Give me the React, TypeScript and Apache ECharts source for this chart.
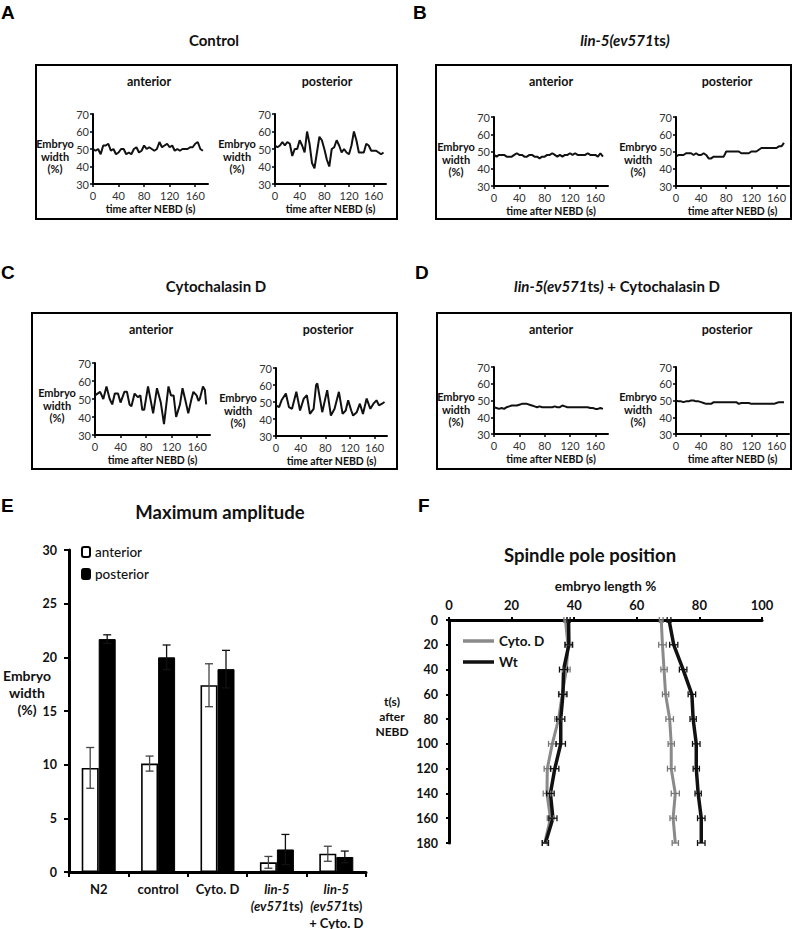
import React, { useEffect, useRef } from "react";
import * as echarts from "echarts";

const FONT = "Lato, 'Open Sans', sans-serif";
const LETTER_FONT = "'Liberation Sans', Arial, sans-serif";

// ---------- Panels A-D: embryo width (%) vs time after NEBD (s) ----------
const timeGrid = [0, 4, 8, 12, 16, 20, 24, 28, 32, 36, 40, 44, 48, 52, 56, 60, 64, 68, 72, 76, 80, 84, 88, 92, 96, 100, 104, 108, 112, 116, 120, 124, 128, 132, 136, 140, 144, 148, 152, 156, 160, 164, 168, 172];
const timeGridLong = [0, 4, 8, 12, 16, 20, 24, 28, 32, 36, 40, 44, 48, 52, 56, 60, 64, 68, 72, 76, 80, 84, 88, 92, 96, 100, 104, 108, 112, 116, 120, 124, 128, 132, 136, 140, 144, 148, 152, 156, 160, 164, 168, 172, 176];

const controlAnterior = [50, 49, 50, 47, 52, 52, 53, 49, 50, 47, 48, 50, 50, 47, 48, 47, 50, 51, 48, 49, 52, 50, 51, 50, 49, 50, 54, 51, 52, 53, 51, 52, 49, 50, 49, 50, 50, 50, 51, 51, 53, 54, 50, 49];
const controlPosterior = [52, 51, 52, 54, 52, 54, 53, 46, 50, 50, 55, 52, 48, 60, 53, 42, 39, 48, 57, 55, 50, 44, 40, 50, 51, 55, 52, 48, 50, 48, 47, 52, 60, 55, 48, 48, 48, 53, 52, 49, 49, 49, 48, 47, 48];
const lin5Anterior = [48, 47, 48, 48, 48, 47, 47, 47, 48, 49, 48, 48, 47, 47, 48, 48, 47, 47, 46, 47, 47, 48, 48, 49, 48, 47, 48, 47, 48, 48, 49, 48, 49, 48, 48, 48, 48, 49, 48, 48, 48, 47, 49, 47];
const lin5Posterior = [47, 48, 48, 48, 49, 49, 49, 48, 49, 48, 48, 49, 48, 46, 46, 47, 47, 47, 47, 47, 50, 50, 50, 50, 50, 50, 49, 49, 49, 49, 50, 50, 50, 51, 52, 52, 52, 52, 52, 52, 52, 53, 53, 55];
const cytoAnteriorTimes = [0, 4, 8, 13, 18, 23, 27, 31, 36, 40, 46, 50, 54, 57, 62, 67, 71, 74, 77, 83, 91, 97, 103, 108, 115, 119, 123, 127, 133, 137, 141, 146, 151, 154, 159, 162, 164, 169, 172, 174];
const cytoAnterior = [52, 53, 54, 50, 57, 50, 47, 53, 53, 48, 54, 54, 47, 46, 53, 51, 52, 44, 44, 57, 42, 56, 48, 36, 57, 52, 52, 40, 47, 56, 50, 42, 50, 54, 52, 49, 50, 57, 55, 47];
const cytoPosteriorTimes = [0, 5, 9, 16, 21, 26, 33, 39, 45, 50, 55, 61, 65, 67, 75, 83, 89, 95, 102, 108, 113, 117, 122, 125, 131, 136, 141, 147, 153, 158, 163, 167, 172, 176];
const cytoPosterior = [48, 47, 51, 55, 47, 46, 56, 45, 52, 54, 43, 46, 60, 61, 44, 57, 42, 46, 56, 43, 45, 51, 45, 42, 44, 49, 43, 52, 46, 49, 51, 48, 49, 50];
const lin5CytoAnterior = [46, 45.5, 45, 45.5, 45, 46, 46.5, 47, 47, 47, 47.5, 48, 48, 48, 47.5, 47, 46.5, 46, 46.5, 46, 46, 46, 46, 46, 46.5, 46, 46, 47, 46.5, 46, 46, 46, 46, 46, 46, 46, 46, 46, 45.5, 45.5, 45, 45, 45.5, 45];
const lin5CytoPosterior = [50, 49.5, 49.5, 49, 49.5, 49.5, 50, 50, 49.5, 49.5, 49, 48.5, 48, 48, 48, 49, 49, 49, 49, 49, 49, 49, 49, 49, 49, 48, 48.5, 48.5, 48.5, 48.5, 48, 48, 48, 48, 48, 48, 48, 48, 48, 48, 48.5, 49, 49, 49];

const timeTicks = [0, 40, 80, 120, 160];

// ---------- Panel E: maximum amplitude ----------
const ampCategories = ["N2", "control", "Cyto. D", "lin-5 (ev571ts)", "lin-5 (ev571ts) + Cyto. D"];
const anteriorMean = [9.7, 10.1, 17.4, 0.9, 1.7];
const anteriorErr = [1.9, 0.7, 2.0, 0.55, 0.7];
const posteriorMean = [21.7, 20.0, 18.9, 2.1, 1.4];
const posteriorErr = [0.4, 1.15, 1.75, 1.4, 0.55];

// ---------- Panel F: spindle pole position ----------
const poleTimes = [0, 20, 40, 60, 80, 100, 120, 140, 160, 180];
const cytoAnteriorPole = [37.2, 38.0, 37.5, 36.2, 35.0, 33.0, 31.4, 31.3, 32.4, 30.6];
const cytoAnteriorPoleErr = [0.5, 1.0, 1.2, 1.2, 1.2, 1.2, 1.0, 1.2, 1.0, 0.8];
const wtAnteriorPole = [38.2, 38.3, 36.6, 36.4, 35.7, 35.7, 33.8, 32.4, 33.2, 30.8];
const wtAnteriorPoleErr = [0.5, 1.2, 1.3, 1.3, 1.3, 1.5, 1.3, 1.2, 1.3, 1.0];
const cytoPosteriorPole = [67.8, 68.2, 68.7, 69.2, 70.5, 71.0, 71.0, 72.3, 71.6, 72.3];
const cytoPosteriorPoleErr = [0.6, 1.2, 1.0, 1.0, 1.2, 1.0, 1.2, 1.3, 1.0, 1.0];
const wtPosteriorPole = [70.3, 71.8, 74.8, 77.6, 78.0, 79.0, 79.0, 79.6, 80.6, 80.6];
const wtPosteriorPoleErr = [0.6, 1.3, 1.2, 1.2, 1.0, 1.2, 1.0, 1.0, 1.2, 1.2];

// layout of the eight small plots (pixels)
const smallPlots = [
  { times: timeGrid, values: controlAnterior, left: 93, top: 114, width: 115, height: 70 },
  { times: timeGridLong, values: controlPosterior, left: 275, top: 114, width: 111, height: 70 },
  { times: timeGrid, values: lin5Anterior, left: 494, top: 117, width: 114, height: 69 },
  { times: timeGrid, values: lin5Posterior, left: 676, top: 117, width: 113, height: 69 },
  { times: cytoAnteriorTimes, values: cytoAnterior, left: 95, top: 363, width: 115, height: 72 },
  { times: cytoPosteriorTimes, values: cytoPosterior, left: 276, top: 368, width: 111, height: 68 },
  { times: timeGrid, values: lin5CytoAnterior, left: 494, top: 367, width: 114, height: 67 },
  { times: timeGrid, values: lin5CytoPosterior, left: 676, top: 367, width: 113, height: 67 },
];

const pairs = (a: number[], b: number[]) => a.map((v, i) => [v, b[i]]);

function barErrRender(offset: number, color: string) {
  return (params: any, api: any) => {
    const c = api.value(0);
    const v = api.value(1);
    const e = api.value(2);
    const top = api.coord([c, v + e]);
    const bot = api.coord([c, Math.max(v - e, 0)]);
    const x = top[0] + offset;
    const cap = 4;
    const style = { stroke: color, lineWidth: 1.3 };
    return {
      type: "group",
      children: [
        { type: "line", shape: { x1: x, y1: top[1], x2: x, y2: bot[1] }, style },
        { type: "line", shape: { x1: x - cap, y1: top[1], x2: x + cap, y2: top[1] }, style },
        { type: "line", shape: { x1: x - cap, y1: bot[1], x2: x + cap, y2: bot[1] }, style },
      ],
    };
  };
}

function poleErrRender(color: string) {
  return (params: any, api: any) => {
    const x = api.value(0);
    const t = api.value(1);
    const e = api.value(2);
    const l = api.coord([x - e, t]);
    const r = api.coord([x + e, t]);
    const cap = 3;
    const style = { stroke: color, lineWidth: 1.3 };
    return {
      type: "group",
      children: [
        { type: "line", shape: { x1: l[0], y1: l[1], x2: r[0], y2: r[1] }, style },
        { type: "line", shape: { x1: l[0], y1: l[1] - cap, x2: l[0], y2: l[1] + cap }, style },
        { type: "line", shape: { x1: r[0], y1: r[1] - cap, x2: r[0], y2: r[1] + cap }, style },
      ],
    };
  };
}

function txt(x: number, y: number, text: string, size: number, extra: any = {}) {
  return {
    type: "text",
    x,
    y,
    silent: true,
    style: {
      text,
      fontSize: size,
      fontWeight: "bold",
      fontFamily: FONT,
      fill: "#111",
      align: "center",
      verticalAlign: "middle",
      ...extra,
    },
  };
}

function buildOption() {
  const grids: any[] = [];
  const xAxes: any[] = [];
  const yAxes: any[] = [];
  const series: any[] = [];
  const graphics: any[] = [];

  smallPlots.forEach((p, i) => {
    grids.push({ left: p.left, top: p.top, width: p.width, height: p.height, containLabel: false, outerBoundsMode: "none" });
    xAxes.push({
      gridIndex: i,
      type: "value",
      min: 0,
      max: 180,
      interval: 40,
      axisLine: { show: true, onZero: false, lineStyle: { color: "#000", width: 2 } },
      axisTick: { show: true, length: 3, customValues: timeTicks, lineStyle: { color: "#000", width: 1.5 } },
      axisLabel: { customValues: timeTicks, fontSize: 11, color: "#333", fontFamily: FONT, margin: 6 },
      splitLine: { show: false },
      name: "time after NEBD (s)",
      nameLocation: "middle",
      nameGap: 19,
      nameTextStyle: { fontSize: 10.5, fontWeight: "bold", fontFamily: FONT, color: "#111" },
    });
    yAxes.push({
      gridIndex: i,
      type: "value",
      min: 30,
      max: 70,
      interval: 10,
      axisLine: { show: true, lineStyle: { color: "#000", width: 2 } },
      axisTick: { show: true, length: 3, lineStyle: { color: "#000", width: 1.5 } },
      axisLabel: { fontSize: 11, color: "#333", fontFamily: FONT, margin: 4 },
      splitLine: { show: false },
    });
    series.push({
      type: "line",
      xAxisIndex: i,
      yAxisIndex: i,
      data: pairs(p.times, p.values),
      showSymbol: false,
      symbol: "none",
      lineStyle: { color: "#111", width: 2 },
      silent: true,
    });
    graphics.push(
      txt(p.left - 38, p.top + 42, "Embryo\nwidth\n(%)", 11, { lineHeight: 12.5 })
    );
  });

  // ---- E grid (index 8)
  grids.push({ left: 69, top: 550, width: 297, height: 322, containLabel: false, outerBoundsMode: "none" });
  const catLabels: Record<string, string> = {
    "N2": "{b|N2}",
    "control": "{b|control}",
    "Cyto. D": "{b|Cyto. D}",
    "lin-5 (ev571ts)": "{i|lin-5}\n{i|(ev571}{b|ts)}",
    "lin-5 (ev571ts) + Cyto. D": "{i|lin-5}\n{i|(ev571}{b|ts)}\n{b|+ Cyto. D}",
  };
  xAxes.push({
    gridIndex: 8,
    type: "category",
    data: ampCategories,
    axisLine: { show: true, lineStyle: { color: "#000", width: 3 } },
    axisTick: { show: true, length: 5, interval: 0, lineStyle: { color: "#000", width: 2 } },
    axisLabel: {
      interval: 0,
      margin: 8,
      formatter: (v: string) => catLabels[v] || v,
      rich: {
        b: { fontSize: 13, fontWeight: "bold", fontFamily: FONT, color: "#111", lineHeight: 17 },
        i: { fontSize: 13, fontWeight: "bold", fontStyle: "italic", fontFamily: FONT, color: "#111", lineHeight: 17 },
      },
    },
    splitLine: { show: false },
  });
  yAxes.push({
    gridIndex: 8,
    type: "value",
    min: 0,
    max: 30,
    interval: 5,
    axisLine: { show: true, lineStyle: { color: "#000", width: 3 } },
    axisTick: { show: true, length: 5, lineStyle: { color: "#000", width: 2 } },
    axisLabel: { fontSize: 12.5, fontWeight: "bold", color: "#111", fontFamily: FONT, margin: 12 },
    splitLine: { show: false },
  });
  series.push(
    {
      name: "anterior",
      type: "bar",
      xAxisIndex: 8,
      yAxisIndex: 8,
      data: anteriorMean,
      barWidth: 17,
      barGap: "0%",
      itemStyle: { color: "#fff", borderColor: "#000", borderWidth: 1.6 },
      silent: true,
    },
    {
      name: "posterior",
      type: "bar",
      xAxisIndex: 8,
      yAxisIndex: 8,
      data: posteriorMean,
      barWidth: 17,
      barGap: "0%",
      itemStyle: { color: "#000", borderColor: "#000", borderWidth: 1 },
      silent: true,
    },
    {
      type: "custom",
      xAxisIndex: 8,
      yAxisIndex: 8,
      z: 5,
      silent: true,
      encode: { x: 0, y: 1 },
      data: anteriorMean.map((m, i) => [i, m, anteriorErr[i]]),
      renderItem: barErrRender(-8.5, "#444"),
    },
    {
      type: "custom",
      xAxisIndex: 8,
      yAxisIndex: 8,
      z: 5,
      silent: true,
      encode: { x: 0, y: 1 },
      data: posteriorMean.map((m, i) => [i, m, posteriorErr[i]]),
      renderItem: barErrRender(8.5, "#111"),
    }
  );

  // ---- F grid (index 9)
  grids.push({ left: 449, top: 620, width: 313, height: 223, containLabel: false, outerBoundsMode: "none" });
  xAxes.push({
    gridIndex: 9,
    type: "value",
    position: "top",
    min: 0,
    max: 100,
    interval: 20,
    axisLine: { show: true, onZero: false, lineStyle: { color: "#000", width: 3 } },
    axisTick: { show: true, length: 3, lineStyle: { color: "#000", width: 2 } },
    axisLabel: { fontSize: 13, fontWeight: "bold", color: "#111", fontFamily: FONT, margin: 9 },
    splitLine: { show: false },
    name: "embryo length %",
    nameLocation: "middle",
    nameGap: 27,
    nameTextStyle: { fontSize: 13.5, fontWeight: "bold", fontFamily: FONT, color: "#111" },
  });
  yAxes.push({
    gridIndex: 9,
    type: "value",
    inverse: true,
    min: 0,
    max: 180,
    interval: 20,
    axisLine: { show: true, onZero: false, lineStyle: { color: "#000", width: 3 } },
    axisTick: { show: true, length: 3, lineStyle: { color: "#000", width: 2 } },
    axisLabel: { fontSize: 12.5, fontWeight: "bold", color: "#111", fontFamily: FONT, margin: 11 },
    splitLine: { show: false },
  });
  const poleLine = (name: string, xs: number[], color: string, width: number) => ({
    name,
    type: "line",
    xAxisIndex: 9,
    yAxisIndex: 9,
    data: pairs(xs, poleTimes),
    symbol: "none",
    showSymbol: false,
    itemStyle: { color },
    lineStyle: { color, width },
    silent: true,
    z: 3,
  });
  const poleErr = (xs: number[], errs: number[], color: string) => ({
    type: "custom",
    xAxisIndex: 9,
    yAxisIndex: 9,
    silent: true,
    z: 4,
    encode: { x: 0, y: 1 },
    data: xs.map((v, i) => [v, poleTimes[i], errs[i]]),
    renderItem: poleErrRender(color),
  });
  series.push(
    poleLine("Cyto. D", cytoAnteriorPole, "#8a8a8a", 3),
    poleLine("Cyto. D", cytoPosteriorPole, "#8a8a8a", 3),
    poleLine("Wt", wtAnteriorPole, "#111", 3.5),
    poleLine("Wt", wtPosteriorPole, "#111", 3.5),
    poleErr(cytoAnteriorPole, cytoAnteriorPoleErr, "#777"),
    poleErr(cytoPosteriorPole, cytoPosteriorPoleErr, "#777"),
    poleErr(wtAnteriorPole, wtAnteriorPoleErr, "#111"),
    poleErr(wtPosteriorPole, wtPosteriorPoleErr, "#111")
  );

  // ---- static texts and frames
  const box = (x: number, y: number, w: number, h: number) => ({
    type: "rect",
    silent: true,
    shape: { x, y, width: w, height: h },
    style: { fill: "none", stroke: "#000", lineWidth: 2 },
  });
  const letter = (x: number, y: number, t: string) =>
    txt(x, y, t, 19, { fontFamily: LETTER_FONT, align: "left", fill: "#000" });
  const titleRich = {
    i: { fontSize: 15, fontWeight: "bold", fontStyle: "italic", fontFamily: FONT, fill: "#111" },
    n: { fontSize: 15, fontWeight: "bold", fontFamily: FONT, fill: "#111" },
  };

  graphics.push(
    box(36, 65, 361, 154),
    box(436, 65, 355, 154),
    box(32, 313, 365, 156),
    box(437, 313, 354, 156),
    letter(1, 12, "A"),
    letter(413, 12, "B"),
    letter(1, 272, "C"),
    letter(415, 272, "D"),
    letter(1, 505, "E"),
    letter(418, 505, "F"),
    txt(214, 40, "Control", 15),
    txt(625, 40, "{i|lin-5(ev571}{n|ts}{i|)}", 15, { rich: titleRich }),
    txt(216, 286, "Cytochalasin D", 15),
    txt(617, 286, "{i|lin-5(ev571}{n|ts}{i|)}{n| + Cytochalasin D}", 15, { rich: titleRich }),
    txt(149, 81, "anterior", 12.5),
    txt(327, 81, "posterior", 12.5),
    txt(551, 81, "anterior", 12.5),
    txt(727, 81, "posterior", 12.5),
    txt(151, 329, "anterior", 12.5),
    txt(328, 329, "posterior", 12.5),
    txt(551, 329, "anterior", 12.5),
    txt(727, 329, "posterior", 12.5),
    txt(220, 512, "Maximum amplitude", 18.5),
    txt(27, 692, "Embryo\nwidth\n(%)", 14, { lineHeight: 17 }),
    txt(590, 555, "Spindle pole position", 18.5),
    txt(392, 716, "t(s)\nafter\nNEBD", 12, { lineHeight: 15 })
  );

  return {
    animation: false,
    backgroundColor: "#fff",
    grid: grids,
    xAxis: xAxes,
    yAxis: yAxes,
    series,
    legend: [
      {
        data: ["anterior", "posterior"],
        orient: "vertical",
        left: 76,
        top: 540,
        itemWidth: 8,
        itemHeight: 10,
        itemGap: 8,
        selectedMode: false,
        textStyle: { fontSize: 13.5, lineHeight: 14, fontFamily: FONT, color: "#111", fontWeight: 500 },
      },
      {
        data: [
          { name: "Cyto. D", icon: "rect" },
          { name: "Wt", icon: "rect" },
        ],
        orient: "vertical",
        left: 458,
        top: 629,
        itemWidth: 31,
        itemHeight: 3.5,
        itemGap: 7,
        selectedMode: false,
        textStyle: { fontSize: 13.5, lineHeight: 14, fontFamily: FONT, color: "#111", fontWeight: "bold" },
      },
    ],
    graphic: { elements: graphics },
  };
}

export default function App() {
  const ref = useRef<HTMLDivElement>(null);
  useEffect(() => {
    if (!ref.current) return;
    const chart = echarts.init(ref.current, null, { renderer: "svg" });
    chart.setOption(buildOption() as any);
    return () => chart.dispose();
  }, []);
  return (
    <div
      ref={ref}
      style={{ position: "absolute", left: 0, top: 0, width: 793, height: 929, background: "#fff" }}
    />
  );
}
